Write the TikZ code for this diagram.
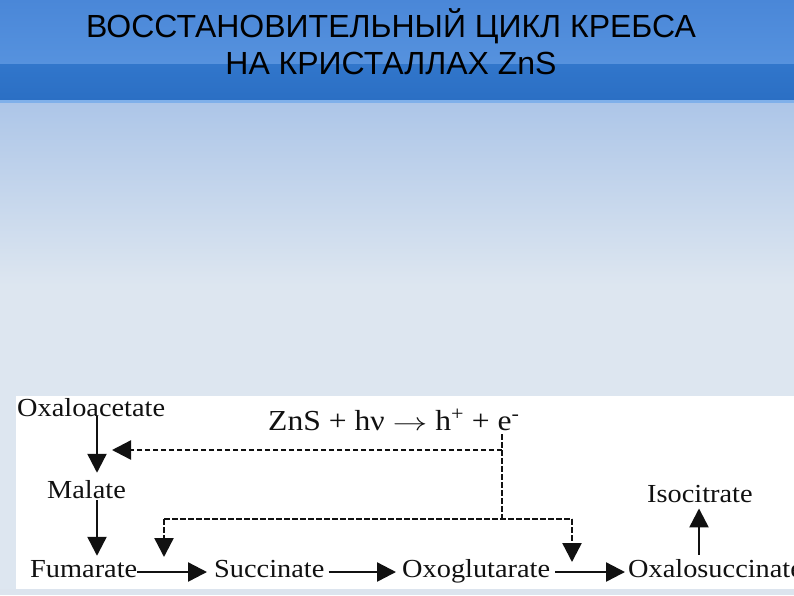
\documentclass[tikz,border=0pt]{standalone}
\usepackage{fontspec}
\setmainfont{Liberation Serif}
\newfontfamily\titlefont{Liberation Sans}
\newfontfamily\diagfont[FakeStretch=1.09]{Liberation Serif}
\usetikzlibrary{arrows.meta}
\definecolor{bandA}{HTML}{4A87D8}
\definecolor{bandB}{HTML}{5692DE}
\definecolor{bandC}{HTML}{3176CB}
\definecolor{bandD}{HTML}{2B6FC4}
\definecolor{sepline}{HTML}{7FB0EA}
\definecolor{bgA}{HTML}{ADC6E8}
\definecolor{bgB}{HTML}{DDE6F0}
\definecolor{bgC}{HTML}{DCE4EE}
\definecolor{ink}{HTML}{111111}
\tikzset{
  ttl/.style={inner sep=0pt, anchor=base, font=\titlefont\fontsize{32}{38}\selectfont},
  lbl/.style={inner sep=0pt, anchor=base west, text=ink, font=\diagfont\fontsize{26}{30}\selectfont},
  eqn/.style={inner sep=0pt, anchor=base west, text=ink, font=\diagfont\fontsize{29}{34}\selectfont},
  tipshape/.style={-{Triangle[length=19pt,width=19pt]}},
  arr/.style={draw=ink, line width=2.4pt, tipshape},
  dashline/.style={draw=ink, line width=2.4pt, dash pattern=on 5.5pt off 2.5pt},
  dasharr/.style={dashline, tipshape}
}
\begin{document}
\begin{tikzpicture}[x=1pt,y=-1pt]
\useasboundingbox (0,0) rectangle (794,595);
% background
\shade[top color=bandA, bottom color=bandB] (0,0) rectangle (794,64);
\shade[top color=bandC, bottom color=bandD] (0,64) rectangle (794,100);
\fill[sepline] (0,100) rectangle (794,103);
\shade[top color=bgA, bottom color=bgB] (0,103) rectangle (794,285);
\fill[bgB] (0,285) rectangle (794,595);
\fill[white] (16,396) rectangle (794,589);
\fill[bgC] (0,589) rectangle (794,595);
% title
\node[ttl] (t1) at (391,37) {ВОССТАНОВИТЕЛЬНЫЙ ЦИКЛ КРЕБСА};
\node[ttl] (t2) at (391,74) {НА КРИСТАЛЛАХ ZnS};
% labels
\node[lbl] (oxa) at (17,416) {Oxaloacetate};
\node[lbl] (mal) at (47,498) {Malate};
\node[lbl] (fum) at (30,577) {Fumarate};
\node[lbl] (suc) at (214,577) {Succinate};
\node[lbl] (oxo) at (402,577) {Oxoglutarate};
\begin{scope}
\clip (16,396) rectangle (794,589);
\node[lbl] (osu) at (628,577) {Oxalosuccinate};
\end{scope}
\node[lbl] (iso) at (647,502) {Isocitrate};
\node[eqn] (eq) at (268,430) {ZnS + hν \scalebox{1.4}[1]{$\rightarrow$} h\textsuperscript{+} + e\textsuperscript{-}};
% helper coordinates
\coordinate (xA) at (97,0);
\coordinate (xI) at (699,0);
\coordinate (xD) at (502,0);
\coordinate (yU) at (0,450);
\coordinate (tA) at (112,450);
\coordinate (jl) at (164,519);
\coordinate (jr) at (572,519);
% solid arrows
\draw[arr, shorten >=7pt] (oxa.south -| xA) -- (mal.north -| xA);
\draw[arr, shorten <=2pt, shorten >=4pt] (mal.south -| xA) -- (fum.north -| xA);
\draw[arr, shorten >=7pt] ([yshift=5pt]fum.base east) -- ([yshift=5pt]suc.base west);
\draw[arr, shorten <=4pt, shorten >=6pt] ([yshift=5pt]suc.base east) -- ([yshift=5pt]oxo.base west);
\draw[arr, shorten <=5pt, shorten >=3pt] ([yshift=5pt]oxo.base east) -- ([yshift=5pt]osu.base west);
\draw[arr, shorten <=4pt, shorten >=6pt] (osu.north -| xI) -- (iso.south -| xI);
% dashed connectors
\draw[dashline, shorten <=4pt] (eq.south -| xD) -- (xD |- jl);
\draw[dasharr] (xD |- yU) -- (tA);
\draw[dashline] (jl) -- (jr);
\draw[dasharr, shorten >=15pt] (jl) -- ([yshift=5pt]jl |- suc.base west);
\draw[dasharr, shorten >=10pt] (jr) -- ([yshift=5pt]jr |- oxo.base east);
\end{tikzpicture}
\end{document}
